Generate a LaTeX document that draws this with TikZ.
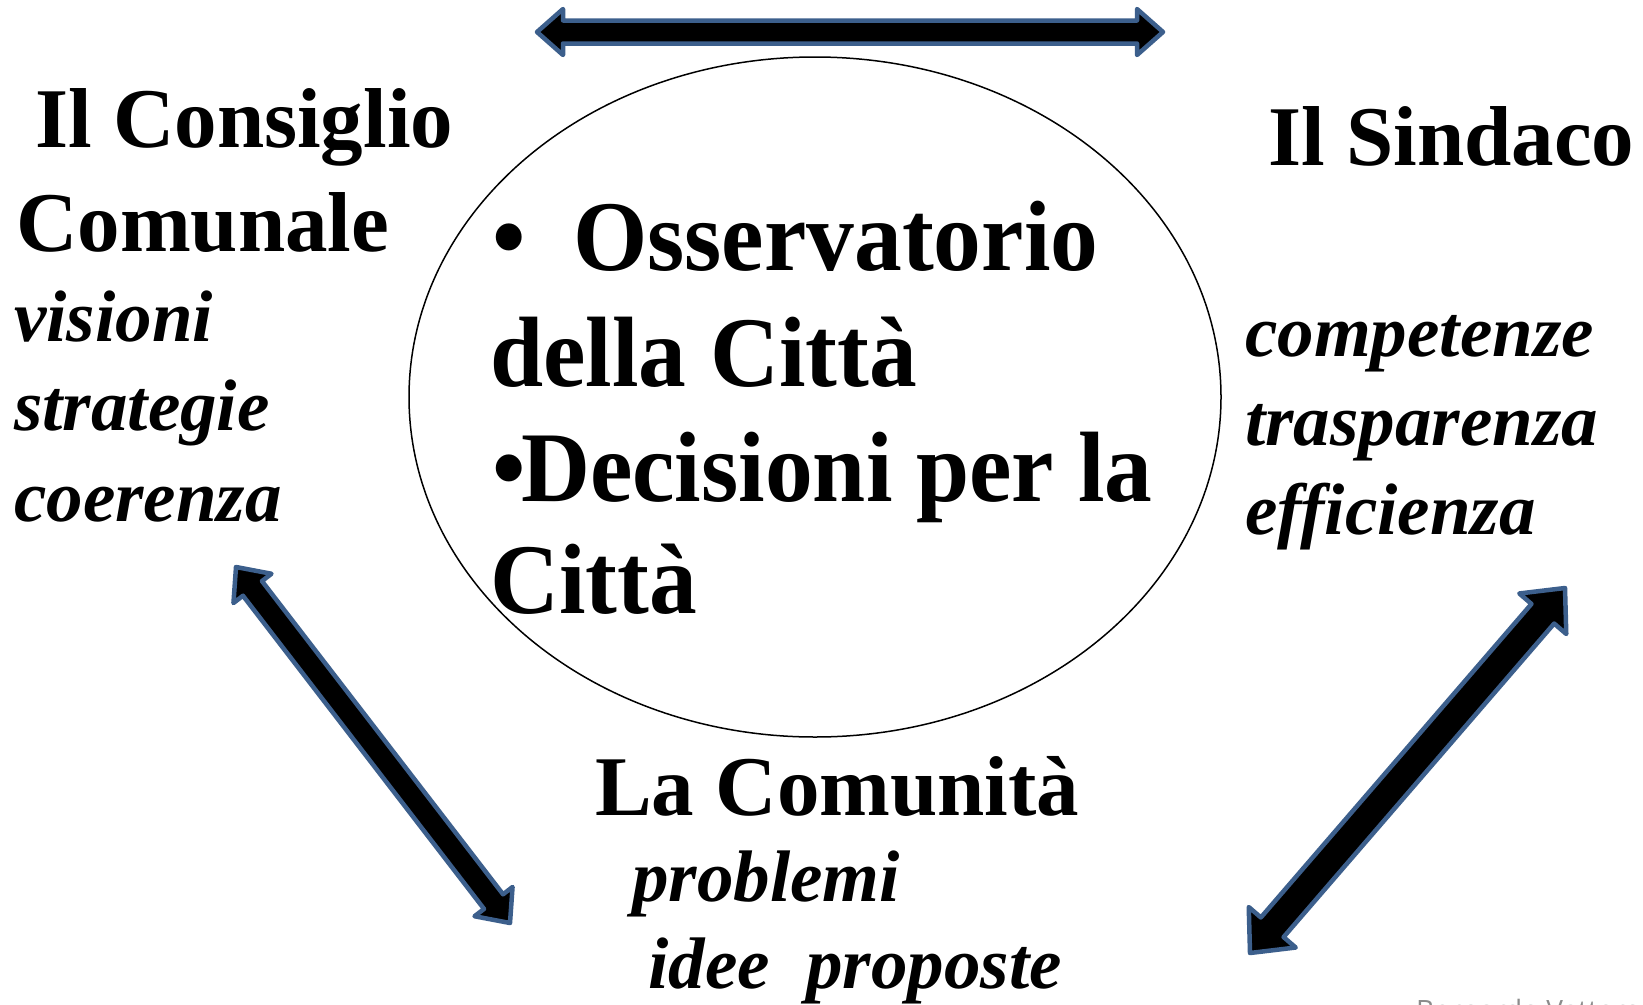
\documentclass[tikz,border=0pt]{standalone}
\usepackage{fontspec}
\setmainfont{Liberation Serif}
\newfontfamily\condfont{Liberation Serif}[FakeStretch=0.955]
\newfontfamily\notefont{Open Sans}
\usetikzlibrary{calc,shapes.geometric}
\definecolor{arrowblue}{HTML}{3C5F8C}
\definecolor{notegray}{HTML}{8C8C8C}
\tikzset{
  title/.style={font=\fontsize{85}{100}\selectfont\bfseries, anchor=base west, inner sep=0pt},
  keyword/.style={font=\fontsize{73}{88}\selectfont\bfseries\itshape, anchor=base west, inner sep=0pt},
  centertext/.style={font=\condfont\fontsize{100}{115}\selectfont\bfseries, anchor=base west, inner sep=0pt},
  blockarrow/.style={fill=black, draw=arrowblue, line width=4.5pt, line join=round},
  oval/.style={ellipse, draw=black, line width=1.5pt, inner sep=0pt},
  note/.style={font=\notefont\fontsize{28}{32}\selectfont, text=notegray, anchor=base west, inner sep=0pt},
}
% #1 from, #2 to, #3 shaft half width, #4 head half width, #5 head length
\newcommand\dblarrow[5]{%
  \path[blockarrow] (#1)
    -- ($(#1)!#5!(#2)!#4!90:(#2)$)
    -- ($(#1)!#5!(#2)!#3!90:(#2)$)
    -- ($(#2)!#5!(#1)!#3!-90:(#1)$)
    -- ($(#2)!#5!(#1)!#4!-90:(#1)$)
    -- (#2)
    -- ($(#2)!#5!(#1)!#4!90:(#1)$)
    -- ($(#2)!#5!(#1)!#3!90:(#1)$)
    -- ($(#1)!#5!(#2)!#3!-90:(#2)$)
    -- ($(#1)!#5!(#2)!#4!-90:(#2)$)
    -- cycle;}
\begin{document}
\begin{tikzpicture}[x=1pt,y=-1pt]
\useasboundingbox (0,0) rectangle (1643,1004);
\fill[white] (0,0) rectangle (1643,1004);

% central ellipse
\node[oval, minimum width=812pt, minimum height=680pt] (observ) at (815,397) {};

% arrows
\coordinate (t1) at (537,32);   \coordinate (t2) at (1163,32);
\coordinate (l1) at (236,567);  \coordinate (l2) at (510,923);
\coordinate (r1) at (1565,588); \coordinate (r2) at (1250,953);
\dblarrow{t1}{t2}{11.5pt}{23pt}{26pt}
\dblarrow{l1}{l2}{12pt}{24pt}{27pt}
\dblarrow{r1}{r2}{15pt}{31pt}{34pt}

% left group
\node[title] (cons1) at (35,147) {Il Consiglio};
\node[title] (cons2) at (16,251) {Comunale};
\node[keyword] (vis) at (14,341) {visioni};
\node[keyword] (str) at (14,430) {strategie};
\node[keyword] (coe) at (14,521) {coerenza};

% right group
\node[title] (sind) at (1268,165) {Il Sindaco};
\node[keyword] (comp) at (1245,356) {competenze};
\node[keyword] (tras) at (1245,445) {trasparenza};
\node[keyword] (eff) at (1245,534) {efficienza};

% bottom group
\node[title] (com) at (595,815) {La Comunità};
\node[keyword] (prob) at (632,901) {problemi};
\node[keyword] (idee) at (648,988) {idee\ \ proposte};

% ellipse text
\node[centertext] (b1) at (492,270) {•};
\node[centertext] (oss) at (573,270) {Osservatorio};
\node[centertext] (della) at (490,386) {della Città};
\node[centertext] (b2) at (492,501) {•};
\node[centertext] (dec) at (521,501) {Decisioni per la};
\node[centertext] (citta) at (490,613) {Città};

% cut-off footer
\begin{scope}
\clip (0,0) rectangle (1643,1004);
\node[note] (author) at (1416,1020) {Bernardo Vatteroni};
\end{scope}
\end{tikzpicture}
\end{document}
